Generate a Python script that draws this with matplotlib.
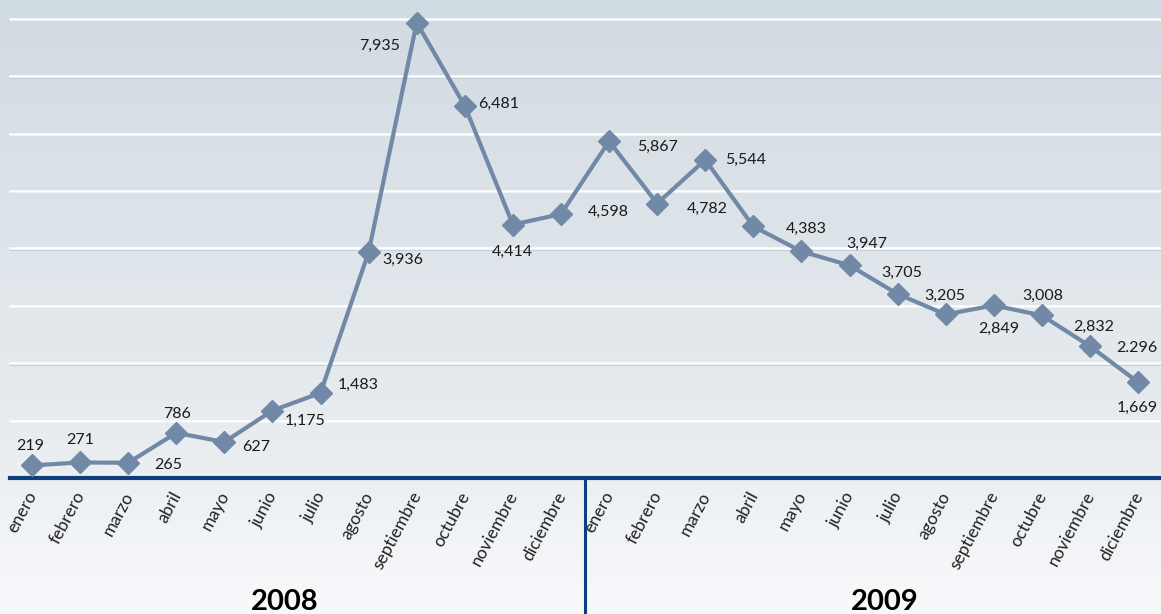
import numpy as np
import matplotlib
matplotlib.use("Agg")
import matplotlib.pyplot as plt

months = ['enero', 'febrero', 'marzo', 'abril', 'mayo', 'junio', 'julio',
          'agosto', 'septiembre', 'octubre', 'noviembre', 'diciembre']
years = ['2008', '2009']
values_2008 = [219, 271, 265, 786, 627, 1175, 1483, 3936, 7935, 6481, 4414, 4598]
values_2009 = [5867, 4782, 5544, 4383, 3947, 3705, 3205, 2849, 3008, 2832, 2296, 1669]
labels_2008 = ['219', '271', '265', '786', '627', '1,175', '1,483', '3,936',
               '7,935', '6,481', '4,414', '4,598']
labels_2009 = ['5,867', '4,782', '5,544', '4,383', '3,947', '3,705', '3,205',
               '2,849', '3,008', '2,832', '2.296', '1,669']

# label placement relative to its marker, in pixels (x right, y up)
label_offsets = [(-2, 19), (0, 22), (40, -2), (1, 19), (32, -5), (33, -10),
                 (38, 8), (34, -8), (-37, -23), (34, 2), (-1, -27), (47, 2),
                 (48, -6), (50, -5), (40, 0), (53, -2), (65, 8), (52, -8),
                 (47, -2), (53, -14), (49, 9), (52, -11), (47, -2), (-1, -26)]
year_offsets = [-12, 11]

values = values_2008 + values_2009
labels = labels_2008 + labels_2009
x = np.arange(len(values))

W, H = 1161, 614
fig = plt.figure(figsize=(W / 100, H / 100), dpi=100)

# gradient background
bg = fig.add_axes([0, 0, 1, 1])
top = np.array([209, 219, 226]) / 255
mid = np.array([232, 236, 239]) / 255
bot = np.array([248, 249, 251]) / 255
t = np.linspace(0, 1, 300)[:, None]
grad = np.where(t < 0.7, top + (mid - top) * (t / 0.7), mid + (bot - mid) * ((t - 0.7) / 0.3))
bg.imshow(grad[:, None, :], aspect='auto', extent=[0, 1, 0, 1])
bg.axis('off')

ax = fig.add_axes([0, 0, 1, 1])
ax.patch.set_alpha(0)
px = 48.09          # pixels per month
py = 57.4 / 1000    # pixels per unit
x0, y0 = 32, 478    # pixel position of first point / zero line
ax.set_xlim(-x0 / px, (W - x0) / px)
ax.set_ylim(-(H - y0) / py, y0 / py)
ax.axis('off')

xmin_frac = 10 / W
for g in range(1000, 9000, 1000):
    ax.axhline(g - 1.3 / py, xmin=xmin_frac, xmax=1, color='#bccbd5', lw=1.2, zorder=1)
    ax.axhline(g, xmin=xmin_frac, xmax=1, color='white', lw=1.8, zorder=1)

ax.axhline(0, xmin=xmin_frac, xmax=1, color='#0d3f7e', lw=3, zorder=2)
ax.plot([11.5, 11.5], [0, ax.get_ylim()[0]], color='#0d3f7e', lw=2.2, zorder=2)

ax.plot(x, values, color='#7189a6', lw=3, marker='D', markersize=11,
        markeredgecolor='#7189a6', zorder=3)

for i, (v, lab) in enumerate(zip(values, labels)):
    dx, dy = label_offsets[i]
    ax.annotate(lab, (i, v), xytext=(dx, dy), textcoords='offset pixels',
                ha='center', va='center', fontsize=11.5, family='Lato',
                color='#1a1a1a', zorder=4)

for i, m in enumerate(months + months):
    ax.annotate(m, (i, 0), xytext=(8, -11), textcoords='offset pixels',
                ha='right', va='top', rotation=62, fontsize=12.5,
                family='Lato', color='#222222')

for k, yr in enumerate(years):
    ax.annotate(yr, (5.5 + 12 * k, 0), xytext=(year_offsets[k], -132),
                textcoords='offset pixels', ha='center', va='baseline',
                fontsize=21, fontweight='bold', family='Lato', color='black')

fig.savefig('out.png', dpi=100)
